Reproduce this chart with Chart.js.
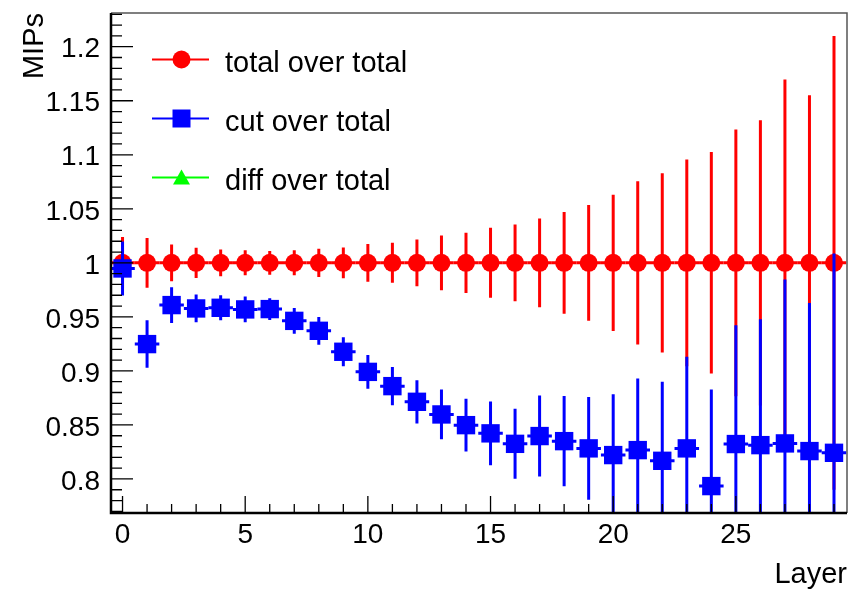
<!DOCTYPE html>
<html>
<head>
  <meta charset="utf-8" />
  <title>MIPs per layer</title>
  <script src="https://cdn.jsdelivr.net/npm/chart.js"></script>
  <style>
    body { margin: 0; background: #fff; }
  </style>
</head>
<body>
  <canvas id="chart" width="860" height="589"></canvas>

  <script>
    // Ratios per calorimeter layer, with their errors
    const layers = [0, 1, 2, 3, 4, 5, 6, 7, 8, 9, 10, 11, 12, 13, 14, 15, 16, 17, 18, 19, 20, 21, 22, 23, 24, 25, 26, 27, 28, 29];
    const totalOverTotal = [1, 1, 1, 1, 1, 1, 1, 1, 1, 1, 1, 1, 1, 1, 1, 1, 1, 1, 1, 1, 1, 1, 1, 1, 1, 1, 1, 1, 1, 1];
    const totalOverTotalErr = [0.024, 0.023, 0.017, 0.014, 0.0123, 0.0116, 0.011, 0.0116, 0.013, 0.0143,
                               0.0174, 0.0185, 0.0217, 0.0253, 0.0278, 0.0324, 0.0355, 0.041, 0.047, 0.0535,
                               0.063, 0.0755, 0.083, 0.0957, 0.1025, 0.1234, 0.132, 0.1697, 0.155, 0.21];
    const cutOverTotal = [0.9948, 0.9248, 0.9609, 0.9578, 0.9584, 0.9569, 0.9572, 0.9463, 0.9371, 0.9177,
                          0.8991, 0.8859, 0.8714, 0.8597, 0.8498, 0.8422, 0.8325, 0.8397, 0.835, 0.8283,
                          0.8221, 0.8267, 0.8168, 0.8283, 0.7934, 0.8323, 0.8313, 0.8329, 0.8258, 0.8242];
    const cutOverTotalErr = [0.025, 0.022, 0.0165, 0.0128, 0.0116, 0.0119, 0.010, 0.0119, 0.0128, 0.0134,
                             0.0157, 0.0177, 0.020, 0.023, 0.0244, 0.0294, 0.0324, 0.0375, 0.0417, 0.0475,
                             0.0564, 0.0663, 0.0731, 0.0848, 0.0895, 0.110, 0.1166, 0.1517, 0.137, 0.1845];
    const diffOverTotal = [];
    const diffOverTotalErr = [];
    const layerHalfWidth = 0.5;

    const seriesNames = ['total over total', 'cut over total', 'diff over total'];
    const xTickValues = [0, 5, 10, 15, 20, 25];
    const xTickLabels = ['0', '5', '10', '15', '20', '25'];
    const yTickValues = [0.8, 0.85, 0.9, 0.95, 1, 1.05, 1.1, 1.15, 1.2];
    const yTickLabels = ['0.8', '0.85', '0.9', '0.95', '1', '1.05', '1.1', '1.15', '1.2'];

    const FONT = '"Liberation Sans", Arial, Helvetica, sans-serif';

    function points(ys) {
      return ys.map((v, i) => ({ x: layers[i], y: v }));
    }

    // x and y error bars, drawn under each dataset's markers
    const errorBars = {
      id: 'errorBars',
      beforeDatasetDraw(chart, args) {
        const ds = chart.data.datasets[args.index];
        if (!ds.yErr) return;
        const { ctx, chartArea: a } = chart;
        const x = chart.scales.x, y = chart.scales.y;
        ctx.save();
        ctx.beginPath();
        ctx.rect(a.left, a.top, a.right - a.left, a.bottom - a.top);
        ctx.clip();
        ctx.strokeStyle = ds.borderColor;
        ctx.lineWidth = 3;
        ds.data.forEach((p, i) => {
          const px = x.getPixelForValue(p.x);
          const py = y.getPixelForValue(p.y);
          ctx.beginPath();
          ctx.moveTo(x.getPixelForValue(p.x - ds.xErr), py);
          ctx.lineTo(x.getPixelForValue(p.x + ds.xErr), py);
          ctx.moveTo(px, y.getPixelForValue(p.y - ds.yErr[i]));
          ctx.lineTo(px, y.getPixelForValue(p.y + ds.yErr[i]));
          ctx.stroke();
        });
        ctx.restore();
      }
    };

    // frame, axis lines and inward ticks
    const frame = {
      id: 'frame',
      afterDatasetsDraw(chart) {
        const { ctx, chartArea: a } = chart;
        const x = chart.scales.x, y = chart.scales.y;
        ctx.save();
        ctx.strokeStyle = '#555';
        ctx.lineWidth = 1.5;
        ctx.beginPath();
        ctx.moveTo(a.left, a.top);
        ctx.lineTo(a.right, a.top);
        ctx.lineTo(a.right, a.bottom);
        ctx.stroke();

        ctx.strokeStyle = '#000';
        ctx.lineWidth = 2.5;
        ctx.beginPath();
        ctx.moveTo(a.left, a.top);
        ctx.lineTo(a.left, a.bottom);
        ctx.lineTo(a.right, a.bottom);
        ctx.stroke();

        ctx.lineWidth = 1.3;
        ctx.beginPath();
        for (let v = Math.ceil(x.min); v <= x.max; v++) {
          const px = x.getPixelForValue(v);
          const len = v % 5 === 0 ? 17 : 9;
          ctx.moveTo(px, a.bottom);
          ctx.lineTo(px, a.bottom - len);
        }
        for (let k = Math.ceil(y.min * 100); k <= y.max * 100; k++) {
          const py = y.getPixelForValue(k / 100);
          const len = k % 5 === 0 ? 22 : 11;
          ctx.moveTo(a.left, py);
          ctx.lineTo(a.left + len, py);
        }
        ctx.stroke();
        ctx.restore();
      }
    };

    // legend: line with marker, then the label
    const markerLegend = {
      id: 'markerLegend',
      afterDraw(chart) {
        const ctx = chart.ctx;
        const x0 = 152, x1 = 209, xm = 181.5, xt = 225;
        const rows = [59.5, 118.5, 177.5];
        ctx.save();
        chart.data.datasets.forEach((ds, i) => {
          const yc = rows[i];
          ctx.strokeStyle = ds.borderColor;
          ctx.fillStyle = ds.backgroundColor;
          ctx.lineWidth = 2;
          ctx.beginPath();
          ctx.moveTo(x0, yc);
          ctx.lineTo(x1, yc);
          ctx.stroke();
          ctx.beginPath();
          if (ds.pointStyle === 'circle') {
            ctx.arc(xm, yc, 9, 0, Math.PI * 2);
          } else if (ds.pointStyle === 'rect') {
            ctx.rect(xm - 9, yc - 9, 18, 18);
          } else {
            ctx.moveTo(xm, yc - 8);
            ctx.lineTo(xm + 8.5, yc + 7);
            ctx.lineTo(xm - 8.5, yc + 7);
            ctx.closePath();
          }
          ctx.fill();
          ctx.fillStyle = '#000';
          ctx.font = '29px ' + FONT;
          ctx.textBaseline = 'alphabetic';
          ctx.textAlign = 'left';
          ctx.fillText(ds.label, xt, yc + 12);
        });
        ctx.restore();
      }
    };

    const tickFont = { family: FONT, size: 28 };

    new Chart(document.getElementById('chart'), {
      type: 'scatter',
      data: {
        datasets: [
          {
            label: seriesNames[0],
            data: points(totalOverTotal),
            yErr: totalOverTotalErr,
            xErr: layerHalfWidth,
            pointStyle: 'circle',
            pointRadius: 9,
            borderWidth: 0,
            borderColor: '#ff0000',
            backgroundColor: '#ff0000',
            order: 3
          },
          {
            label: seriesNames[1],
            data: points(cutOverTotal),
            yErr: cutOverTotalErr,
            xErr: layerHalfWidth,
            pointStyle: 'rect',
            pointRadius: 13,
            borderWidth: 0,
            borderColor: '#0000ff',
            backgroundColor: '#0000ff',
            order: 2
          },
          {
            label: seriesNames[2],
            data: points(diffOverTotal),
            yErr: diffOverTotalErr,
            xErr: layerHalfWidth,
            pointStyle: 'triangle',
            pointRadius: 9,
            borderWidth: 0,
            borderColor: '#00ff00',
            backgroundColor: '#00ff00',
            order: 1
          }
        ]
      },
      options: {
        responsive: false,
        animation: false,
        devicePixelRatio: 1,
        layout: { padding: { top: 13, right: 5, left: 0, bottom: 0 } },
        plugins: {
          legend: { display: false },
          tooltip: { enabled: false }
        },
        scales: {
          x: {
            type: 'linear',
            min: -0.47,
            max: 29.53,
            afterBuildTicks: s => { s.ticks = xTickValues.map(v => ({ value: v })); },
            afterFit: s => { s.height = 76; s.paddingLeft = 0; s.paddingRight = 0; },
            grid: { display: false, drawTicks: false },
            border: { display: false },
            ticks: {
              font: tickFont,
              color: '#000',
              padding: 5,
              maxRotation: 0,
              autoSkip: false,
              callback: v => xTickLabels[xTickValues.indexOf(v)]
            },
            title: {
              display: true,
              text: 'Layer',
              align: 'end',
              color: '#000',
              font: { family: FONT, size: 29 },
              padding: { top: 0, bottom: -3 }
            }
          },
          y: {
            type: 'linear',
            min: 0.7685,
            max: 1.2312,
            afterBuildTicks: s => { s.ticks = yTickValues.map(v => ({ value: v })); },
            afterFit: s => { s.width = 111; s.paddingTop = 0; s.paddingBottom = 0; },
            grid: { display: false, drawTicks: false },
            border: { display: false },
            ticks: {
              font: tickFont,
              color: '#000',
              padding: 11,
              labelOffset: 3,
              autoSkip: false,
              callback: v => yTickLabels[yTickValues.indexOf(v)]
            },
            title: {
              display: true,
              text: 'MIPs',
              align: 'end',
              color: '#000',
              font: { family: FONT, size: 29 },
              padding: { top: 18, bottom: 0 }
            }
          }
        }
      },
      plugins: [errorBars, frame, markerLegend]
    });
  </script>
</body>
</html>
